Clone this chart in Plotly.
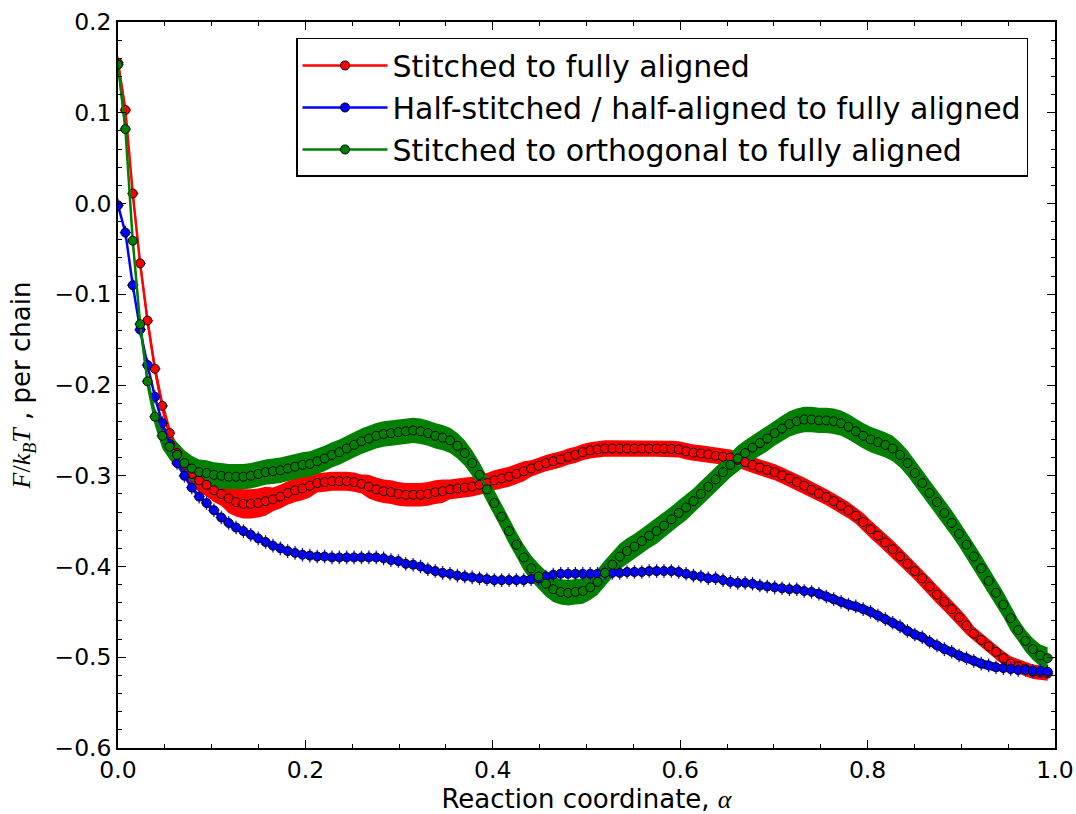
import numpy as np
import plotly.graph_objects as go

# Reaction-coordinate grid (127 windows)
alpha = np.arange(127) / 127.0

red_F = [0.155, 0.103, 0.011, -0.066, -0.129, -0.182, -0.223, -0.253, -0.275, -0.288,
         -0.298, -0.305, -0.310, -0.316, -0.320, -0.325, -0.329, -0.331, -0.331, -0.330,
         -0.328, -0.326, -0.323, -0.319, -0.316, -0.314, -0.311, -0.308, -0.307, -0.306,
         -0.306, -0.306, -0.307, -0.309, -0.312, -0.315, -0.317, -0.318, -0.320, -0.321,
         -0.321, -0.321, -0.320, -0.318, -0.317, -0.315, -0.314, -0.313, -0.312, -0.310,
         -0.308, -0.305, -0.303, -0.301, -0.298, -0.295, -0.292, -0.289, -0.286, -0.284,
         -0.282, -0.279, -0.277, -0.274, -0.272, -0.271, -0.270, -0.270, -0.270, -0.270,
         -0.270, -0.270, -0.270, -0.270, -0.270, -0.2705, -0.271, -0.273, -0.2745, -0.2755,
         -0.2765, -0.278, -0.279, -0.280, -0.2825, -0.285, -0.288, -0.291, -0.2935, -0.296,
         -0.2995, -0.303, -0.307, -0.311, -0.3155, -0.3195, -0.3235, -0.328, -0.333, -0.338,
         -0.344, -0.351, -0.359, -0.366, -0.3735, -0.381, -0.389, -0.397, -0.405, -0.413,
         -0.422, -0.431, -0.439, -0.447, -0.456, -0.465, -0.474, -0.481, -0.488, -0.494,
         -0.501, -0.507, -0.510, -0.513, -0.516, -0.517, -0.518]

blue_F = [-0.002, -0.032, -0.090, -0.139, -0.178, -0.213, -0.242, -0.265, -0.286, -0.300,
          -0.313, -0.323, -0.330, -0.338, -0.346, -0.352, -0.357, -0.361, -0.365, -0.369,
          -0.373, -0.377, -0.380, -0.383, -0.385, -0.387, -0.388, -0.389, -0.389, -0.390,
          -0.390, -0.390, -0.390, -0.390, -0.390, -0.390, -0.391, -0.393, -0.394, -0.397,
          -0.398, -0.400, -0.403, -0.405, -0.407, -0.408, -0.410, -0.411, -0.412, -0.413,
          -0.414, -0.415, -0.415, -0.415, -0.415, -0.415, -0.414, -0.413, -0.411, -0.409,
          -0.408, -0.408, -0.408, -0.408, -0.408, -0.408, -0.407, -0.407, -0.407, -0.406,
          -0.406, -0.406, -0.405, -0.405, -0.405, -0.405, -0.406, -0.408, -0.410, -0.411,
          -0.413, -0.413, -0.415, -0.417, -0.418, -0.418, -0.419, -0.421, -0.422, -0.423,
          -0.424, -0.425, -0.425, -0.427, -0.428, -0.430, -0.433, -0.436, -0.439, -0.442,
          -0.444, -0.447, -0.450, -0.454, -0.458, -0.462, -0.466, -0.471, -0.475, -0.478,
          -0.483, -0.487, -0.491, -0.494, -0.498, -0.501, -0.504, -0.507, -0.509, -0.511,
          -0.512, -0.513, -0.514, -0.514, -0.515, -0.515, -0.516]

green_F = [0.153, 0.082, -0.041, -0.133, -0.196, -0.235, -0.256, -0.268, -0.277, -0.286,
           -0.292, -0.296, -0.297, -0.299, -0.300, -0.301, -0.301, -0.301, -0.300, -0.298,
           -0.296, -0.295, -0.294, -0.292, -0.290, -0.288, -0.287, -0.284, -0.281, -0.277,
           -0.274, -0.270, -0.266, -0.262, -0.259, -0.256, -0.254, -0.253, -0.252, -0.251,
           -0.250, -0.251, -0.253, -0.256, -0.258, -0.261, -0.267, -0.275, -0.286, -0.299,
           -0.315, -0.330, -0.345, -0.361, -0.376, -0.390, -0.402, -0.411, -0.419, -0.425,
           -0.428, -0.429, -0.428, -0.427, -0.423, -0.417, -0.407, -0.398, -0.389, -0.383,
           -0.378, -0.372, -0.366, -0.361, -0.355, -0.348, -0.341, -0.335, -0.328, -0.320,
           -0.312, -0.304, -0.296, -0.288, -0.281, -0.275, -0.269, -0.264, -0.259, -0.253,
           -0.248, -0.243, -0.240, -0.238, -0.238, -0.239, -0.239, -0.240, -0.242, -0.246,
           -0.251, -0.256, -0.260, -0.263, -0.266, -0.270, -0.277, -0.286, -0.297, -0.308,
           -0.319, -0.329, -0.341, -0.352, -0.364, -0.376, -0.389, -0.402, -0.416, -0.429,
           -0.442, -0.457, -0.470, -0.482, -0.491, -0.498, -0.501]

# Uncertainty band half-widths
red_err = ([0.008] * 9 + [0.013] * 6 + [0.016] * 6 + [0.013] * 6 + [0.0105] * 7 +
           [0.013] * 11 + [0.011] * 11 + [0.009] * 45 + [0.010] * 15 + [0.008] * 11)
blue_err = [0.003] * 95 + [0.005] * 25 + [0.003] * 7
green_err = [0.010] * 6 + [0.014] * 116 + [0.012] * 5

# Error bar sizes
xerr_val = [0.006] * 127
red_yerr = [0.003] * 127
blue_yerr = [0.0075] * 127
green_yerr = [0.003] * 127

series = [
    ("Stitched to fully aligned", red_F, red_err, red_yerr, "#ff0000"),
    ("Half-stitched / half-aligned to fully aligned", blue_F, blue_err, blue_yerr, "#0000ff"),
    ("Stitched to orthogonal to fully aligned", green_F, green_err, green_yerr, "#008000"),
]

fig = go.Figure()

# Bands first
for name, F, err, yerr, col in series:
    F = np.array(F)
    e = np.array(err)
    xs = np.concatenate([alpha, alpha[::-1]])
    ys = np.concatenate([F + e, (F - e)[::-1]])
    fig.add_trace(go.Scatter(x=xs, y=ys, fill="toself", fillcolor=col,
                             line=dict(width=0, color=col), mode="lines",
                             hoverinfo="skip", showlegend=False))

# Lines, markers and error bars
for name, F, err, yerr, col in series:
    fig.add_trace(go.Scatter(
        x=alpha, y=F, name=name, mode="lines+markers",
        line=dict(color=col, width=2.5),
        marker=dict(symbol="circle", size=9, color=col,
                    line=dict(color="black", width=1)),
        error_x=dict(type="data", array=xerr_val, color=col, thickness=1.2, width=0),
        error_y=dict(type="data", array=yerr, color=col, thickness=1.2, width=0),
    ))

math = "font-family:Liberation Serif"
fig.update_layout(
    width=1076, height=814,
    margin=dict(l=118, r=21, t=22, b=66),
    paper_bgcolor="white", plot_bgcolor="white",
    font=dict(family="DejaVu Sans", size=23.5, color="black"),
    showlegend=True,
    legend=dict(x=0.19, y=0.978, xanchor="left", yanchor="top",
                bgcolor="white", bordercolor="black", borderwidth=1.5,
                font=dict(size=30, family="DejaVu Sans"), itemwidth=85,
                tracegroupgap=4),
    xaxis=dict(range=[0, 1], dtick=0.2, tickformat=".1f", automargin=False,
               ticks="inside", ticklen=8, tickwidth=1, tickcolor="black",
               showline=True, linecolor="black", linewidth=1.5, mirror="allticks",
               showgrid=False, zeroline=False,
               minor=dict(dtick=0.05, ticks="inside", ticklen=4, tickcolor="black", showgrid=False),
               title=dict(text="Reaction coordinate, <span style='%s'><i>α</i></span>" % math,
                          font=dict(size=26), standoff=6)),
    yaxis=dict(range=[-0.6, 0.2], dtick=0.1, tickformat=".1f", automargin=False,
               ticks="inside", ticklen=8, tickwidth=1, tickcolor="black",
               showline=True, linecolor="black", linewidth=1.5, mirror="allticks",
               showgrid=False, zeroline=False,
               minor=dict(dtick=0.02, ticks="inside", ticklen=4, tickcolor="black", showgrid=False),
               title=dict(text="<span style='%s'><i>F</i>/<i>k</i><sub><i>B</i></sub><i>T</i></span> , per chain" % math,
                          font=dict(size=26), standoff=16)),
)

fig.write_html("out.html")
